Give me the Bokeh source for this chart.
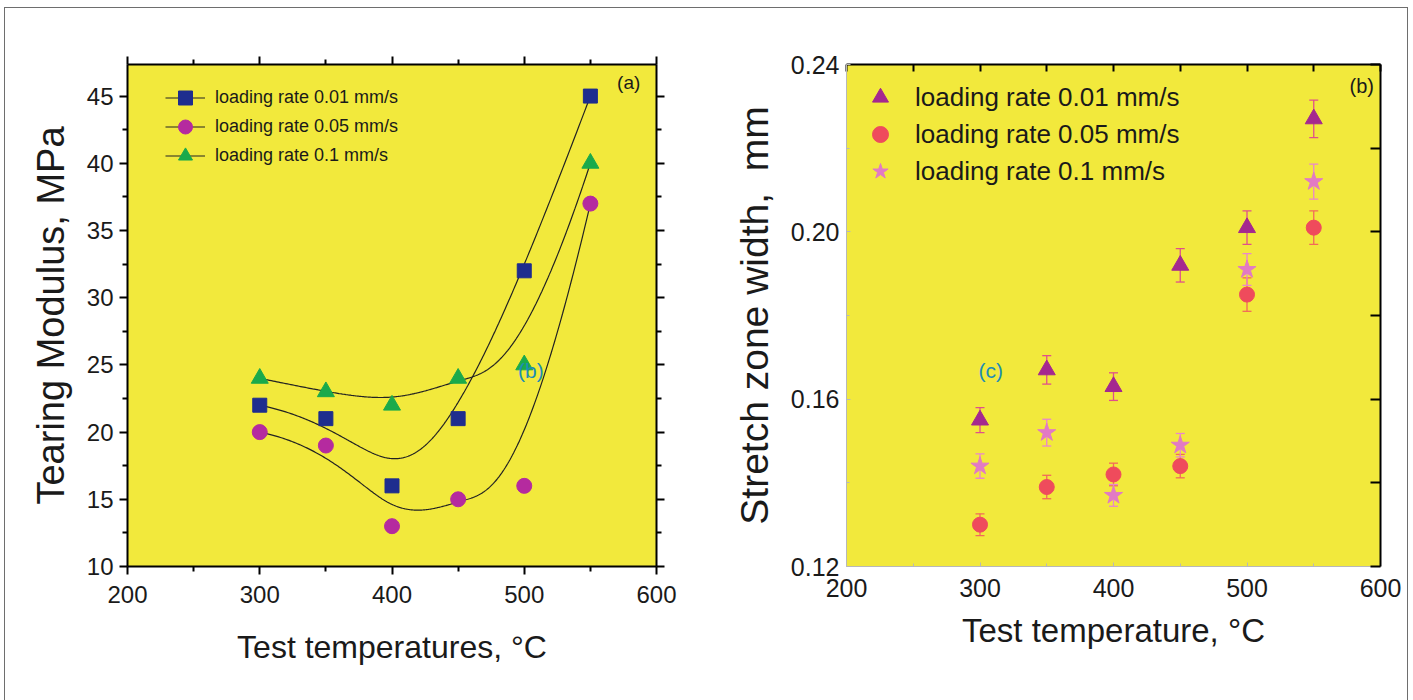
import numpy as np
from bokeh.plotting import figure
from bokeh.models import (LinearAxis, FixedTicker, Legend, LegendItem, Label,
                          Whisker, TeeHead, ColumnDataSource, NumeralTickFormatter,
                          InlineStyleSheet)
from bokeh.layouts import row
from bokeh.embed import file_html
from bokeh.resources import INLINE

# ---------------- data ----------------
temps = [300, 350, 400, 450, 500, 550]

# (a) Tearing modulus, MPa
tm_001 = [22, 21, 16, 21, 32, 45]
tm_005 = [20, 19, 13, 15, 16, 37]
tm_01 = [24, 23, 22, 24, 25, 40]

# (b) Stretch zone width, mm (with error bars)
szw_001 = [0.155, 0.167, 0.163, 0.192, 0.201, 0.227]
szw_001_err = [0.0030, 0.0034, 0.0033, 0.0040, 0.0040, 0.0045]
szw_005 = [0.130, 0.139, 0.142, 0.144, 0.185, 0.201]
szw_005_err = [0.0026, 0.0028, 0.0027, 0.0028, 0.0040, 0.0040]
szw_01 = [0.144, 0.152, 0.137, 0.149, 0.191, 0.212]
szw_01_err = [0.0029, 0.0032, 0.0026, 0.0028, 0.0038, 0.0042]

labels = ["loading rate 0.01 mm/s", "loading rate 0.05 mm/s", "loading rate 0.1 mm/s"]

x_ticks = [200, 300, 400, 500, 600]
x_minor = [250, 350, 450, 550]
y1_ticks = [10, 15, 20, 25, 30, 35, 40, 45]
y1_minor = [12.5, 17.5, 22.5, 27.5, 32.5, 37.5, 42.5]
y2_ticks = [0.12, 0.16, 0.20, 0.24]
y2_minor = [0.14, 0.18, 0.22]

FONT = "Liberation Sans"
YELLOW = "#f2e93c"
TEAL = "#1e8db5"


# Origin-style B-spline connecting line (data points used as control points)
def bspline(xs, ys, p=3, n=300):
    P = np.column_stack([xs, ys]).astype(float)
    m = len(P)
    knots = [0.0] * (p + 1) + [float(i) for i in range(1, m - p)] + [float(m - p)] * (p + 1)
    out = []
    for t in np.linspace(0, m - p, n):
        k = max(j for j in range(p, m) if knots[j] <= t)
        d = [P[j + k - p].copy() for j in range(p + 1)]
        for r in range(1, p + 1):
            for j in range(p, r - 1, -1):
                den = knots[j + 1 + k - r] - knots[j + k - p]
                a = (t - knots[j + k - p]) / den if den else 0.0
                d[j] = (1 - a) * d[j - 1] + a * d[j]
        out.append(d[p])
    out = np.array(out)
    return out[:, 0], out[:, 1]


def style_axis(ax, color="black", width=2, tin=0, tout=8, min_in=0, min_out=5,
               label_size="24px", standoff=6):
    ax.axis_line_color = color
    ax.axis_line_width = width
    ax.major_tick_line_color = color
    ax.minor_tick_line_color = color
    ax.major_tick_line_width = width
    ax.minor_tick_line_width = width
    ax.major_tick_in = tin
    ax.major_tick_out = tout
    ax.minor_tick_in = min_in
    ax.minor_tick_out = min_out
    ax.major_label_text_font = FONT
    ax.major_label_text_font_size = label_size
    ax.major_label_text_color = "#1a1a1a"
    ax.major_label_standoff = standoff
    ax.axis_label_text_font = FONT
    ax.axis_label_text_font_style = "normal"
    ax.axis_label_text_color = "#1a1a1a"


def one_item_legend(item, loc, gw, gh, standoff, fsize):
    return Legend(items=[item], location=loc, padding=0, margin=0, spacing=0,
                  glyph_width=gw, glyph_height=gh, label_height=gh, label_standoff=standoff,
                  label_text_font=FONT, label_text_font_size=fsize, label_text_color="#1a1a1a",
                  background_fill_alpha=0, border_line_color=None)


# ---------------- left panel (a) ----------------
p1 = figure(width=705, height=700, x_range=(200, 600), y_range=(10, 47.35),
            output_backend="svg", toolbar_location=None,
            min_border_left=127, min_border_right=49, min_border_top=64, min_border_bottom=134)
p1.grid.visible = False
p1.background_fill_color = YELLOW
p1.border_fill_color = "white"
p1.outline_line_color = None

p1.xaxis.ticker = FixedTicker(ticks=x_ticks, minor_ticks=x_minor)
p1.yaxis.ticker = FixedTicker(ticks=y1_ticks, minor_ticks=y1_minor)
style_axis(p1.xaxis[0], standoff=11)
style_axis(p1.yaxis[0], standoff=6)
p1.xaxis.axis_label = "Test temperatures, °C"
p1.xaxis.axis_label_text_font_size = "32px"
p1.xaxis.axis_label_standoff = 23
p1.yaxis.axis_label = "Tearing Modulus, MPa"
p1.yaxis.axis_label_text_font_size = "38px"
p1.yaxis.axis_label_standoff = 12

top1 = LinearAxis(ticker=FixedTicker(ticks=x_ticks, minor_ticks=x_minor),
                  major_label_overrides={v: "" for v in x_ticks})
style_axis(top1)
p1.add_layout(top1, "above")
right1 = LinearAxis(ticker=FixedTicker(ticks=y1_ticks, minor_ticks=y1_minor),
                    major_label_overrides={v: "" for v in y1_ticks})
style_axis(right1)
p1.add_layout(right1, "right")

series1 = [
    (tm_001, "square", "#1e2d8e", 14),
    (tm_005, "circle", "#b52a9f", 15),
    (tm_01, "triangle", "#1aaa4b", 17),
]
leg1_y = [451, 422, 393]
for (vals, marker, col, size), lab, ly in zip(series1, labels, leg1_y):
    cx, cy = bspline(temps, vals)
    ln = p1.line(cx, cy, line_color="#222222", line_width=1.2)
    sc = p1.scatter(temps, vals, marker=marker, size=size, fill_color=col, line_color=col)
    p1.add_layout(one_item_legend(LegendItem(label=lab, renderers=[ln, sc]),
                                  (38, ly), 40, 35, 10, "18px"))

p1.add_layout(Label(x=579, y=46.0, text="(a)", text_font=FONT, text_font_size="19px",
                    text_color="#1a1a1a", text_align="center", text_baseline="middle"))
p1.add_layout(Label(x=505, y=24.6, text="(b)", text_font=FONT, text_font_size="21px",
                    text_color=TEAL, text_align="center", text_baseline="middle"))

# ---------------- right panel (b) ----------------
p2 = figure(width=708, height=700, x_range=(200, 600), y_range=(0.12, 0.24),
            output_backend="svg", toolbar_location=None,
            min_border_left=141, min_border_right=33, min_border_top=63, min_border_bottom=133)
p2.grid.visible = False
p2.background_fill_color = YELLOW
p2.border_fill_color = "white"
p2.outline_line_color = None

p2.xaxis.ticker = FixedTicker(ticks=x_ticks, minor_ticks=x_minor)
p2.yaxis.ticker = FixedTicker(ticks=y2_ticks, minor_ticks=y2_minor)
p2.yaxis.formatter = NumeralTickFormatter(format="0.00")
style_axis(p2.xaxis[0], color="#b8b8b8", width=1, tin=4, tout=0, min_in=3, min_out=0,
           label_size="25px", standoff=12)
style_axis(p2.yaxis[0], color="#b8b8b8", width=1, tin=4, tout=0, min_in=3, min_out=0,
           label_size="25px", standoff=7)
p2.xaxis.axis_label = "Test temperature, °C"
p2.xaxis.axis_label_text_font_size = "33px"
p2.xaxis.axis_label_standoff = 12
p2.yaxis.axis_label = "Stretch zone width,\u00a0\u00a0mm"
p2.yaxis.axis_label_text_font_size = "39px"
p2.yaxis.axis_label_standoff = 12

top2 = LinearAxis(ticker=FixedTicker(ticks=x_ticks, minor_ticks=x_minor),
                  major_label_overrides={v: "" for v in x_ticks})
style_axis(top2, tin=7, tout=0, min_in=7, min_out=0)
p2.add_layout(top2, "above")
right2 = LinearAxis(ticker=FixedTicker(ticks=y2_ticks, minor_ticks=y2_minor),
                    major_label_overrides={v: "" for v in y2_ticks})
style_axis(right2, tin=10, tout=0, min_in=10, min_out=0)
p2.add_layout(right2, "right")

series2 = [
    (szw_001, szw_001_err, "triangle", "#a5288f", "#e0508a", 17),
    (szw_005, szw_005_err, "circle", "#ef4b5c", "#f26a5a", 15),
    (szw_01, szw_01_err, "star", "#e27ac4", "#ea86cc", 19),
]
leg2_y = [449, 412, 375]
for (vals, errs, marker, col, ecol, size), lab, ly in zip(series2, labels, leg2_y):
    src = ColumnDataSource(dict(x=temps, y=vals,
                                lo=[v - e for v, e in zip(vals, errs)],
                                hi=[v + e for v, e in zip(vals, errs)]))
    w = Whisker(source=src, base="x", lower="lo", upper="hi",
                line_color=ecol, line_width=1.3,
                upper_head=TeeHead(size=9, line_color=ecol, line_width=1.3),
                lower_head=TeeHead(size=9, line_color=ecol, line_width=1.3))
    p2.add_layout(w)
    sc = p2.scatter("x", "y", source=src, marker=marker, size=size,
                    fill_color=col, line_color=col)
    p2.add_layout(one_item_legend(LegendItem(label=lab, renderers=[sc]),
                                  (14, ly), 40, 40, 15, "26px"))

p2.add_layout(Label(x=586, y=0.2348, text="(b)", text_font=FONT, text_font_size="20px",
                    text_color="#1a1a1a", text_align="center", text_baseline="middle"))
p2.add_layout(Label(x=308, y=0.1669, text="(c)", text_font=FONT, text_font_size="21px",
                    text_color=TEAL, text_align="center", text_baseline="middle"))

frame_css = InlineStyleSheet(css="""
:host { position: relative; }
:host::after {
  content: ""; position: absolute; left: 4px; top: 7px; right: 5px; bottom: -4px;
  border: 1.5px solid #6e6e6e; pointer-events: none; z-index: 100;
}
""")
layout = row(p1, p2, spacing=0, stylesheets=[frame_css])

with open("out.html", "w") as f:
    f.write(file_html(layout, INLINE))
